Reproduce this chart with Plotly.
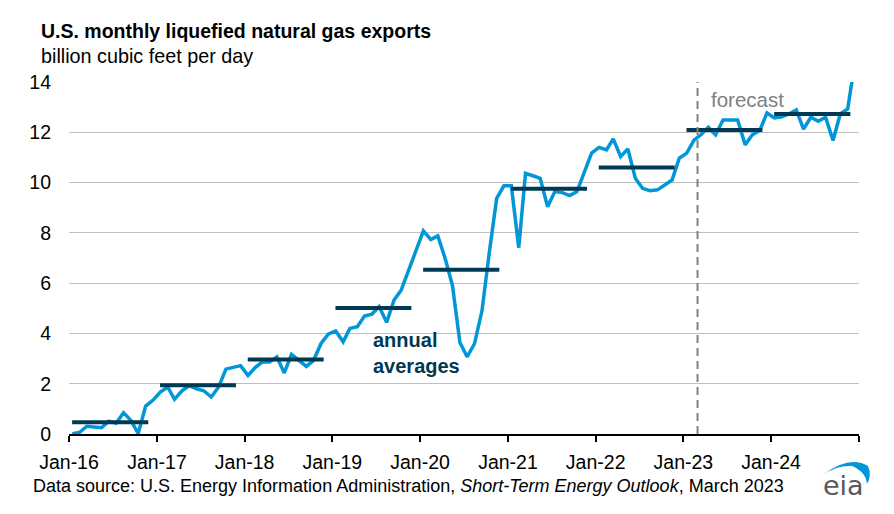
import plotly.graph_objects as go
import pandas as pd

# ---- data (billion cubic feet per day) ----
years = [2016, 2017, 2018, 2019, 2020, 2021, 2022, 2023, 2024]
exports_2016 = [0.00, 0.07, 0.31, 0.28, 0.25, 0.51, 0.43, 0.85, 0.54, 0.02, 1.11, 1.34]
exports_2017 = [1.67, 1.87, 1.38, 1.72, 1.92, 1.80, 1.72, 1.47, 1.87, 2.58, 2.66, 2.72]
exports_2018 = [2.33, 2.65, 2.86, 2.86, 3.07, 2.43, 3.17, 2.93, 2.69, 2.93, 3.60, 3.97]
exports_2019 = [4.10, 3.67, 4.20, 4.27, 4.69, 4.77, 5.07, 4.44, 5.33, 5.73, 6.53, 7.33]
exports_2020 = [8.08, 7.73, 7.88, 6.97, 5.90, 3.64, 3.07, 3.60, 4.91, 7.20, 9.37, 9.87]
exports_2021 = [9.87, 7.41, 10.37, 10.27, 10.17, 9.04, 9.64, 9.60, 9.48, 9.64, 10.44, 11.17]
exports_2022 = [11.40, 11.30, 11.74, 11.03, 11.34, 10.17, 9.77, 9.68, 9.71, 9.90, 10.10, 10.97]
exports_2023 = [11.17, 11.70, 11.90, 12.20, 11.90, 12.49, 12.49, 12.49, 11.50, 11.90, 12.07, 12.77]
exports_2024 = [12.57, 12.62, 12.73, 12.89, 12.13, 12.60, 12.44, 12.60, 11.67, 12.73, 12.93, 14.80]
annual_avg = [0.47, 1.94, 2.96, 5.01, 6.53, 9.75, 10.60, 12.09, 12.73]
tick_labels = ["Jan-16", "Jan-17", "Jan-18", "Jan-19", "Jan-20", "Jan-21",
               "Jan-22", "Jan-23", "Jan-24", ""]
forecast_start = "2023-03-01"

monthly = (exports_2016 + exports_2017 + exports_2018 + exports_2019 + exports_2020
           + exports_2021 + exports_2022 + exports_2023 + exports_2024)
dates = pd.date_range("2016-01-01", periods=len(monthly), freq="MS") + pd.Timedelta(days=14)

# page body has an 8px margin; figure sized to fit inside the window
OFF = 8
W, H = 894 - OFF, 514 - OFF
ML, MR, MT, MB = 69 - OFF, 35, 82 - OFF, 80
PW, PH = W - ML - MR, H - MT - MB


def px(x):  # window pixel -> paper
    return (x - OFF - ML) / PW


def py(y):
    return (H - MB - (y - OFF)) / PH


FONT = "Liberation Sans, Arial, sans-serif"
BLUE = "#0096D7"
DARK = "#003953"

fig = go.Figure()
fig.add_trace(go.Scatter(x=dates, y=monthly, mode="lines",
                         line=dict(color=BLUE, width=3.5), hoverinfo="x+y",
                         showlegend=False))

bx, by = [], []
for yr, avg in zip(years, annual_avg):
    bx += [f"{yr}-01-14", f"{yr}-11-26", None]
    by += [avg, avg, None]
fig.add_trace(go.Scatter(x=bx, y=by, mode="lines",
                         line=dict(color=DARK, width=4), showlegend=False))

tickvals = [f"{y}-01-01" for y in years] + ["2025-01-01"]

fig.update_layout(
    width=W, height=H,
    margin=dict(l=ML, r=MR, t=MT, b=MB),
    paper_bgcolor="white", plot_bgcolor="white",
    font=dict(family=FONT, color="#000000", size=19.5),
    xaxis=dict(type="date", range=["2016-01-01", "2025-01-01"],
               tickvals=tickvals, ticktext=tick_labels,
               ticks="outside", ticklen=6, tickwidth=2, tickcolor="#000000",
               showline=True, linecolor="#000000", linewidth=2,
               showgrid=False, zeroline=False, ticklabelstandoff=4,
               tickfont=dict(size=19.5)),
    yaxis=dict(range=[0, 14], dtick=2, showgrid=True, gridcolor="#BFBFBF",
               gridwidth=1.3, zeroline=False, showline=False,
               ticks="", ticklabelstandoff=17, tickfont=dict(size=19.5)),
    shapes=[dict(type="line", xref="x", yref="paper", x0=forecast_start,
                 x1=forecast_start, y0=0, y1=1,
                 line=dict(color="#808080", width=2, dash="8px,5px")),
            dict(type="path", xref="paper", yref="paper", fillcolor=BLUE,
                 line=dict(width=0),
                 path=(f"M {px(824)} {py(474)} "
                       f"Q {px(850)} {py(455)} {px(868)} {py(466)} "
                       f"Q {px(872)} {py(475)} {px(867)} {py(484)} "
                       f"Q {px(866)} {py(472)} {px(852)} {py(466)} "
                       f"Q {px(838)} {py(465)} {px(824)} {py(474)} Z"))],
    annotations=[
        dict(text="<b>U.S. monthly liquefied natural gas exports</b>",
             xref="paper", yref="paper", x=px(39), y=py(31),
             xanchor="left", yanchor="middle", showarrow=False,
             font=dict(size=19.5, color="#000000")),
        dict(text="billion cubic feet per day",
             xref="paper", yref="paper", x=px(39), y=py(56),
             xanchor="left", yanchor="middle", showarrow=False,
             font=dict(size=19.8, color="#000000")),
        dict(text="<b>annual<br>averages</b>", xref="paper", yref="paper",
             x=px(371), y=py(353), xanchor="left", yanchor="middle",
             align="left", showarrow=False,
             font=dict(size=20, color=DARK)),
        dict(text="forecast", xref="paper", yref="paper",
             x=px(709), y=py(99), xanchor="left", yanchor="middle",
             showarrow=False, font=dict(size=20.5, color="#808080")),
        dict(text="Data source: U.S. Energy Information Administration, "
                  "<i>Short-Term Energy Outlook</i>, March 2023",
             xref="paper", yref="paper", x=px(31), y=py(486),
             xanchor="left", yanchor="middle", showarrow=False,
             font=dict(size=18, color="#000000")),
        dict(text="eia", xref="paper", yref="paper", x=px(821), y=py(485),
             xanchor="left", yanchor="middle", showarrow=False,
             font=dict(size=27, color="#58595B",
                       family="DejaVu Sans, sans-serif")),
    ],
)

fig.write_html("out.html")
